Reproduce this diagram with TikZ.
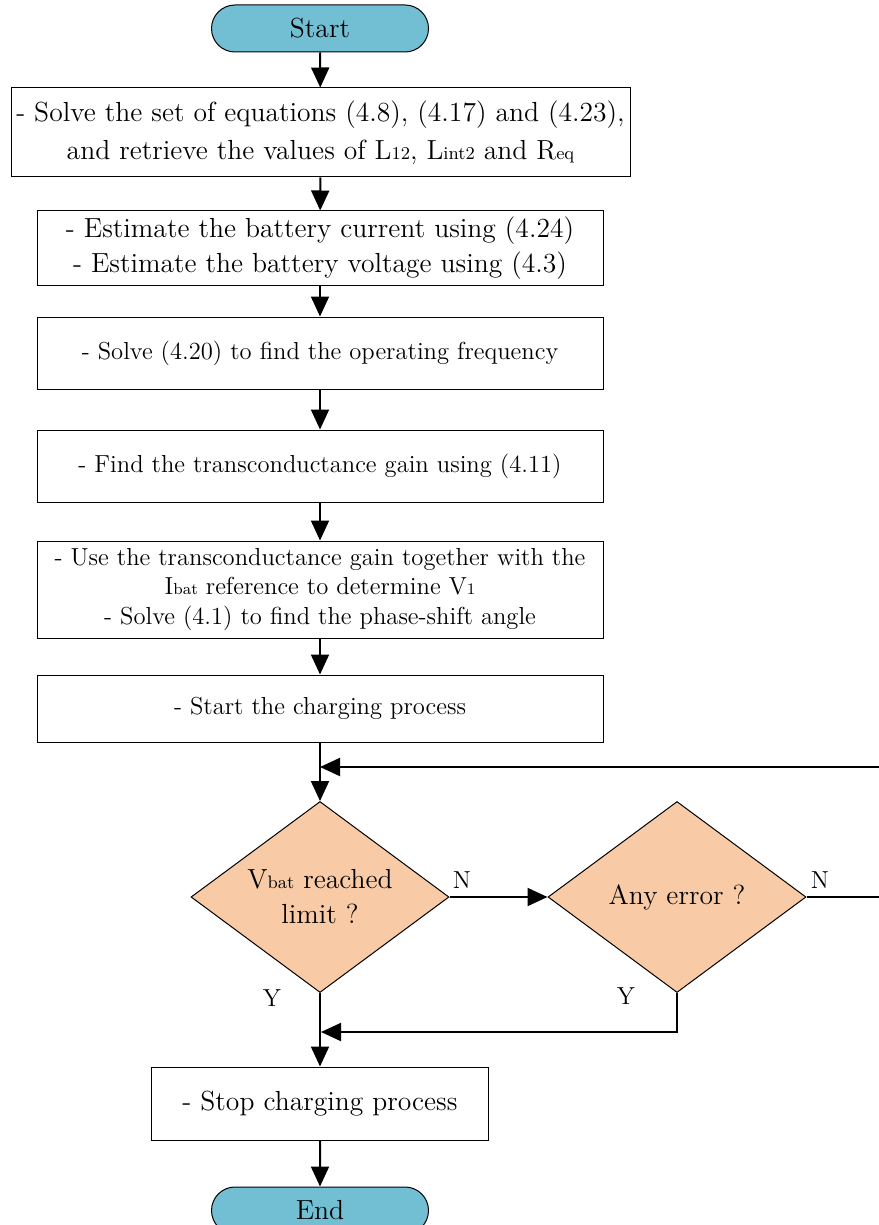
\documentclass[tikz,border=0pt]{standalone}
\usepackage{fontspec}
\usetikzlibrary{arrows.meta,shapes.geometric,shapes.misc}
\definecolor{termfill}{RGB}{114,191,211}
\definecolor{decfill}{RGB}{248,203,166}
\newcommand{\bigtext}{\fontsize{13.8}{17.5}\selectfont}
\newcommand{\smalltext}{\fontsize{12.3}{14.8}\selectfont}
\newcommand{\bsub}[1]{{\fontsize{9}{10}\selectfont #1}}
\newcommand{\ssub}[1]{{\fontsize{8}{9}\selectfont #1}}

\begin{document}
\begin{tikzpicture}[x=0.5pt,y=-0.5pt,
  terminal/.style={rounded rectangle, draw, line width=0.5pt, fill=termfill,
    minimum width=108.5pt, minimum height=23.5pt, inner sep=0pt, font=\bigtext},
  process/.style={rectangle, draw, line width=0.5pt, inner sep=0pt, align=center,
    minimum width=283pt},
  decision/.style={diamond, draw, line width=0.5pt, fill=decfill, aspect=1.35,
    minimum width=129pt, minimum height=95.5pt, inner sep=0pt, align=center, font=\bigtext},
  flow/.style={line width=1pt, -{Triangle[length=10pt,width=9pt]}},
  lbl/.style={font=\smalltext, inner sep=0pt}
]
\useasboundingbox (0,0) rectangle (878,1225);

% terminals
\node[terminal] (start) at (320,28.5) {Start};
\node[terminal] (end) at (320,1210.5) {End};

% process steps
\node[process, minimum width=309.5pt, minimum height=44.5pt, font=\bigtext] (s1) at (320.5,132.5)
  {- Solve the set of equations (4.8), (4.17) and (4.23),\\[1.5pt]
   and retrieve the values of L\bsub{12}, L\bsub{int2} and R\bsub{eq}};
\node[process, minimum height=37pt, font=\bigtext] (s2) at (320,248)
  {- Estimate the battery current using (4.24)\\
   - Estimate the battery voltage using (4.3)};
\node[process, minimum height=36pt, font=\smalltext] (s3) at (320,353)
  {- Solve (4.20) to find the operating frequency};
\node[process, minimum height=36pt, font=\smalltext] (s4) at (320,466)
  {- Find the transconductance gain using (4.11)};
\node[process, minimum height=48.5pt, font=\smalltext] (s5) at (320,589.5)
  {- Use the transconductance gain together with the\\
   I\ssub{bat} reference to determine V\ssub{1}\\
   - Solve (4.1) to find the phase-shift angle};
\node[process, minimum height=33.5pt, font=\smalltext] (s6) at (320,708.5)
  {- Start the charging process};
\node[process, minimum width=168.5pt, minimum height=36.5pt, font=\bigtext] (s7) at (320,1103.5)
  {- Stop charging process};

% decisions
\node[decision] (d1) at (320,897) {V\bsub{bat} reached\\limit ?};
\node[decision] (d2) at (677,897) {Any error ?};

% junction points of the loops
\coordinate (j1) at (320,767);
\coordinate (j2) at (321,1032);
\coordinate (rc) at (880,767);

% main flow
\draw[flow] (start) -- (s1);
\draw[flow] (s1) -- (s2);
\draw[flow] (s2) -- (s3);
\draw[flow] (s3) -- (s4);
\draw[flow] (s4) -- (s5);
\draw[flow] (s5) -- (s6);
\draw[flow] (s6) -- (d1);
\draw[flow] (d1) -- (s7);
\draw[flow] (s7) -- (end);

% branches
\draw[flow] (d1.east) -- (d2.west);
\draw[flow] (d2.east) -| (rc) -- (j1);
\draw[flow] (d2.south) |- (j2);

% branch labels
\node[lbl] (n1) at (462,880) {N};
\node[lbl] (n2) at (820,880) {N};
\node[lbl] (y1) at (272,998) {Y};
\node[lbl] (y2) at (626,996) {Y};
\end{tikzpicture}
\end{document}
